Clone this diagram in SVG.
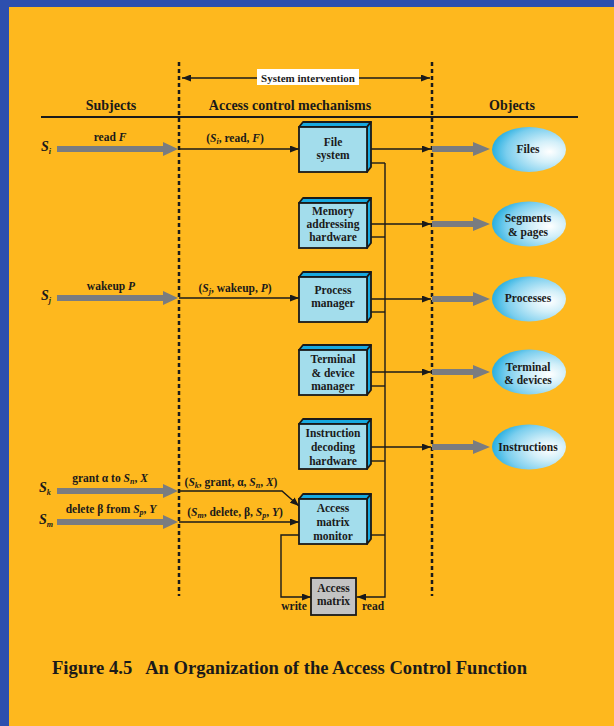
<svg xmlns="http://www.w3.org/2000/svg" width="614" height="726" viewBox="0 0 614 726">
<defs>
<style>
text{font-family:"Liberation Serif","Times New Roman",serif;font-weight:bold;fill:#1a1a1a}
.hdr{font-size:14px}
.lbl{font-size:11.5px}
.box{font-size:11.5px;text-anchor:middle}
.sub{font-size:8px}
.it{font-style:italic}
.front{fill:#A3DDEC;stroke:#1a1a1a;stroke-width:1.8}
.side{fill:#17A9DF;stroke:#1a1a1a;stroke-width:1.8;stroke-linejoin:round}
.conn{fill:none;stroke:#1a1a1a;stroke-width:1.4}
.dash{stroke:#1a1a1a;stroke-width:2.5;stroke-dasharray:4 3}
.grey{fill:#7A7C80}
.ell{fill:url(#eg)}
</style>
<marker id="ah" markerWidth="9" markerHeight="7" refX="9" refY="3.5" orient="auto" markerUnits="userSpaceOnUse">
<path d="M0,0 L9,3.5 L0,7 Z" fill="#1a1a1a"/>
</marker>
<marker id="ahs" markerWidth="9" markerHeight="7" refX="9" refY="3.5" orient="auto-start-reverse" markerUnits="userSpaceOnUse">
<path d="M0,0 L9,3.5 L0,7 Z" fill="#1a1a1a"/>
</marker>
<radialGradient id="eg" cx="0.72" cy="0.55" r="0.78" fx="0.78" fy="0.55">
<stop offset="0" stop-color="#FFFFFF"/>
<stop offset="0.3" stop-color="#D2EFF9"/>
<stop offset="0.7" stop-color="#7ACEEE"/>
<stop offset="1" stop-color="#0FA6DD"/>
</radialGradient>
</defs>

<rect x="0" y="0" width="614" height="726" fill="#2D4FAE"/>
<rect x="9" y="7" width="605" height="719" fill="#FEB81E"/>

<g id="frame">
<line class="dash" x1="179" y1="62" x2="179" y2="596"/>
<line class="dash" x1="432" y1="62" x2="432" y2="596"/>
<line x1="182" y1="78" x2="430" y2="78" class="conn" stroke-width="1.6" marker-start="url(#ahs)" marker-end="url(#ah)"/>
<rect x="257" y="69" width="102" height="16" fill="#FFFFFF"/>
<text x="308" y="81.5" font-size="11px" text-anchor="middle">System intervention</text>
<text class="hdr" x="111" y="110" text-anchor="middle">Subjects</text>
<text class="hdr" x="290" y="110" text-anchor="middle">Access control mechanisms</text>
<text class="hdr" x="512" y="110" text-anchor="middle">Objects</text>
<line x1="41" y1="117" x2="578" y2="117" stroke="#1a1a1a" stroke-width="2.2"/>
</g>

<g id="subjects">
<text x="41" y="151" font-size="14px" class="it">S<tspan class="sub" dy="3">i</tspan></text>
<text x="41" y="300" font-size="14px" class="it">S<tspan class="sub" dy="3">j</tspan></text>
<text x="39" y="492" font-size="14px" class="it">S<tspan class="sub" dy="3">k</tspan></text>
<text x="39" y="524" font-size="14px" class="it">S<tspan class="sub" dy="3">m</tspan></text>
<polygon class="grey" points="57,146 163,146 163,142 178,149 163,156 163,152 57,152"/>
<polygon class="grey" points="57,295 163,295 163,291 178,298 163,305 163,301 57,301"/>
<polygon class="grey" points="57,488 163,488 163,484 178,491 163,498 163,494 57,494"/>
<polygon class="grey" points="57,519 163,519 163,515 178,522 163,529 163,525 57,525"/>
<text class="lbl" x="110" y="141" text-anchor="middle">read <tspan class="it">F</tspan></text>
<text class="lbl" x="111" y="290" text-anchor="middle">wakeup <tspan class="it">P</tspan></text>
<text class="lbl" x="110" y="482" text-anchor="middle">grant α to <tspan class="it">S</tspan><tspan class="sub it" dy="2">n</tspan><tspan dy="-2">, </tspan><tspan class="it">X</tspan></text>
<text class="lbl" x="111" y="513" text-anchor="middle">delete β from <tspan class="it">S</tspan><tspan class="sub it" dy="2">p</tspan><tspan dy="-2">, </tspan><tspan class="it">Y</tspan></text>
</g>

<g id="connectors">
<line class="conn" x1="179" y1="149" x2="299" y2="149" marker-end="url(#ah)"/>
<line class="conn" x1="179" y1="298" x2="299" y2="298" marker-end="url(#ah)"/>
<polyline class="conn" points="179,491 282,491 299,506" marker-end="url(#ah)"/>
<line class="conn" x1="179" y1="522" x2="299" y2="522" marker-end="url(#ah)"/>
<text class="lbl" x="235" y="142" text-anchor="middle">(<tspan class="it">S</tspan><tspan class="sub it" dy="2">i</tspan><tspan dy="-2">, read, </tspan><tspan class="it">F</tspan>)</text>
<text class="lbl" x="235" y="292" text-anchor="middle">(<tspan class="it">S</tspan><tspan class="sub it" dy="2">j</tspan><tspan dy="-2">, wakeup, </tspan><tspan class="it">P</tspan>)</text>
<text class="lbl" x="231" y="486" text-anchor="middle">(<tspan class="it">S</tspan><tspan class="sub it" dy="2">k</tspan><tspan dy="-2">, grant, α, </tspan><tspan class="it">S</tspan><tspan class="sub it" dy="2">n</tspan><tspan dy="-2">, </tspan><tspan class="it">X</tspan>)</text>
<text class="lbl" x="235" y="516" text-anchor="middle">(<tspan class="it">S</tspan><tspan class="sub it" dy="2">m</tspan><tspan dy="-2">, delete, β, </tspan><tspan class="it">S</tspan><tspan class="sub it" dy="2">p</tspan><tspan dy="-2">, </tspan><tspan class="it">Y</tspan>)</text>
<line class="conn" x1="370" y1="149" x2="431" y2="149" marker-end="url(#ah)"/>
<line class="conn" x1="370" y1="224" x2="431" y2="224" marker-end="url(#ah)"/>
<line class="conn" x1="370" y1="299" x2="431" y2="299" marker-end="url(#ah)"/>
<line class="conn" x1="370" y1="372" x2="431" y2="372" marker-end="url(#ah)"/>
<line class="conn" x1="370" y1="447" x2="431" y2="447" marker-end="url(#ah)"/>
<line class="conn" x1="370" y1="163" x2="385" y2="163"/>
<line class="conn" x1="370" y1="237" x2="385" y2="237"/>
<line class="conn" x1="370" y1="312" x2="385" y2="312"/>
<line class="conn" x1="370" y1="386" x2="385" y2="386"/>
<line class="conn" x1="370" y1="461" x2="385" y2="461"/>
<line class="conn" x1="370" y1="535" x2="385" y2="535"/>
<polyline class="conn" points="385,163 385,597 357,597" marker-end="url(#ah)"/>
<polyline class="conn" points="299,535 281,535 281,597 311,597" marker-end="url(#ah)"/>
<text class="lbl" x="294" y="610" text-anchor="middle">write</text>
<text class="lbl" x="373" y="610" text-anchor="middle">read</text>
<polygon class="grey" points="432,146 473,146 473,142 490,149 473,156 473,152 432,152"/>
<polygon class="grey" points="432,221 473,221 473,217 490,224 473,231 473,227 432,227"/>
<polygon class="grey" points="432,296 473,296 473,292 490,299 473,306 473,302 432,302"/>
<polygon class="grey" points="432,369 473,369 473,365 490,372 473,379 473,375 432,375"/>
<polygon class="grey" points="432,444 473,444 473,440 490,447 473,454 473,450 432,450"/>
</g>

<g id="file-system">
<polygon class="side" points="299,127 303,122 371,122 367,127"/>
<polygon class="side" points="367,127 371,122 371,167 367,172"/>
<rect class="front" x="299" y="127" width="68" height="45"/>
<text class="box" x="333" y="146">File</text>
<text class="box" x="333" y="159">system</text>
</g>
<g id="memory-addressing-hardware">
<polygon class="side" points="299,203 303,198 371,198 367,203"/>
<polygon class="side" points="367,203 371,198 371,243 367,248"/>
<rect class="front" x="299" y="203" width="68" height="45"/>
<text class="box" x="333" y="215">Memory</text>
<text class="box" x="333" y="228">addressing</text>
<text class="box" x="333" y="241">hardware</text>
</g>
<g id="process-manager">
<polygon class="side" points="299,277 303,272 371,272 367,277"/>
<polygon class="side" points="367,277 371,272 371,317 367,322"/>
<rect class="front" x="299" y="277" width="68" height="45"/>
<text class="box" x="333" y="294">Process</text>
<text class="box" x="333" y="307">manager</text>
</g>
<g id="terminal-device-manager">
<polygon class="side" points="299,350 303,345 371,345 367,350"/>
<polygon class="side" points="367,350 371,345 371,390 367,395"/>
<rect class="front" x="299" y="350" width="68" height="45"/>
<text class="box" x="333" y="363">Terminal</text>
<text class="box" x="333" y="377">&amp; device</text>
<text class="box" x="333" y="390">manager</text>
</g>
<g id="instruction-decoding-hardware">
<polygon class="side" points="299,424 303,419 371,419 367,424"/>
<polygon class="side" points="367,424 371,419 371,464 367,469"/>
<rect class="front" x="299" y="424" width="68" height="45"/>
<text class="box" x="333" y="437">Instruction</text>
<text class="box" x="333" y="451">decoding</text>
<text class="box" x="333" y="465">hardware</text>
</g>
<g id="access-matrix-monitor">
<polygon class="side" points="299,499 303,494 371,494 367,499"/>
<polygon class="side" points="367,499 371,494 371,539 367,544"/>
<rect class="front" x="299" y="499" width="68" height="45"/>
<text class="box" x="333" y="512">Access</text>
<text class="box" x="333" y="526">matrix</text>
<text class="box" x="333" y="540">monitor</text>
</g>
<g id="access-matrix">
<rect x="311" y="578" width="45" height="37" fill="#C3C3C3" stroke="#1a1a1a" stroke-width="1.8"/>
<text class="box" x="333.5" y="592">Access</text>
<text class="box" x="333.5" y="605">matrix</text>
</g>

<g id="files"><ellipse class="ell" cx="529" cy="149.5" rx="37" ry="22.5"/><text class="box" x="528" y="153">Files</text></g>
<g id="segments-pages"><ellipse class="ell" cx="529" cy="224" rx="37" ry="22.5"/><text class="box" x="528" y="222">Segments</text><text class="box" x="528" y="236">&amp; pages</text></g>
<g id="processes"><ellipse class="ell" cx="529" cy="299" rx="37" ry="22.5"/><text class="box" x="528" y="302">Processes</text></g>
<g id="terminal-devices"><ellipse class="ell" cx="529" cy="372" rx="37" ry="22.5"/><text class="box" x="528" y="371">Terminal</text><text class="box" x="528" y="384">&amp; devices</text></g>
<g id="instructions"><ellipse class="ell" cx="529" cy="447" rx="37" ry="22.5"/><text class="box" x="528" y="451">Instructions</text></g>

<text x="52" y="674" font-size="19px" textLength="475" lengthAdjust="spacingAndGlyphs" xml:space="preserve">Figure 4.5   An Organization of the Access Control Function</text>
</svg>
